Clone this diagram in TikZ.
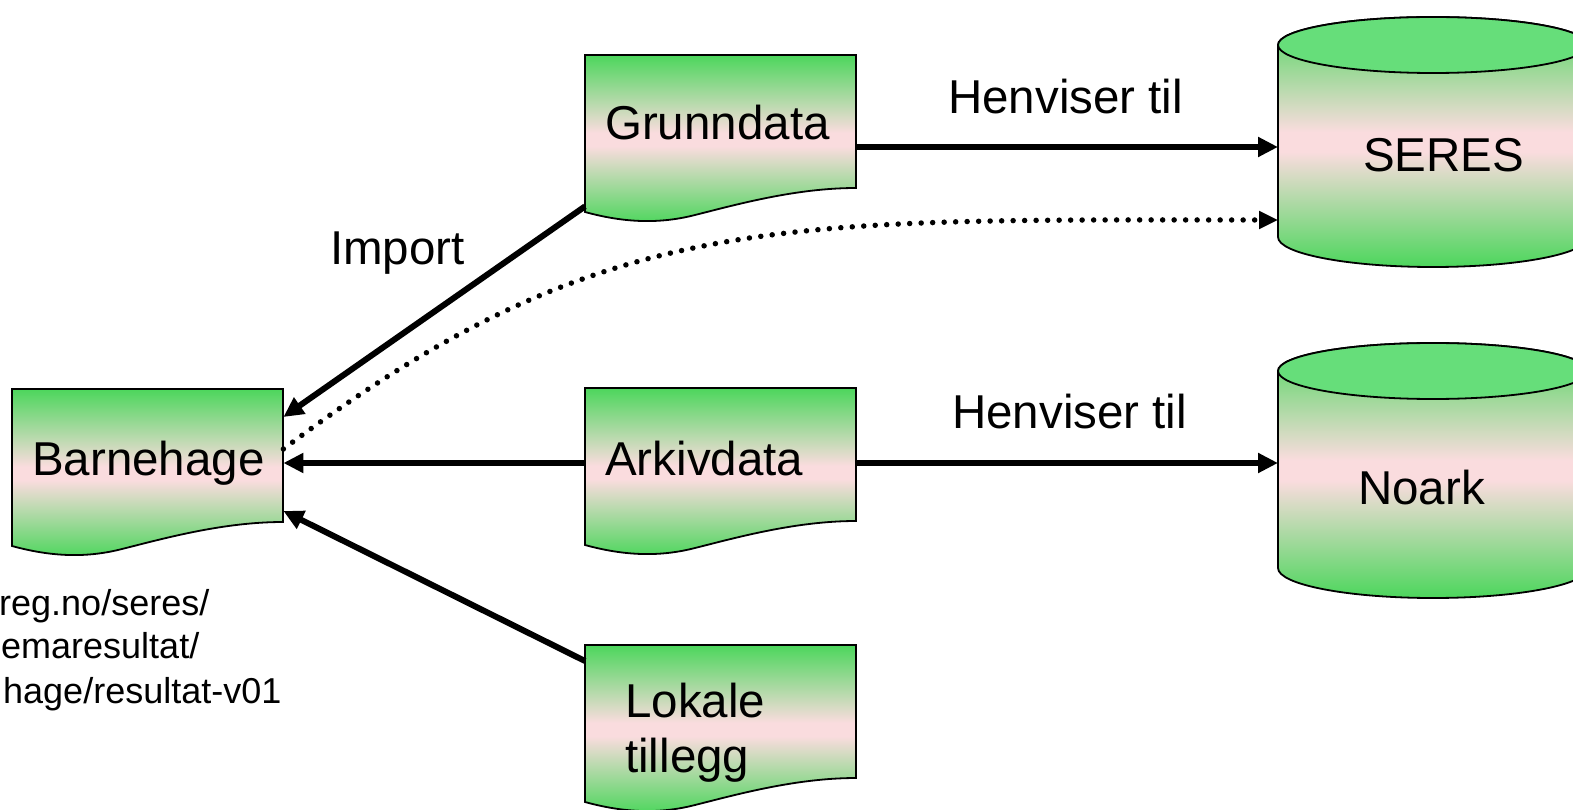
\documentclass[tikz,border=0pt]{standalone}
\usepackage{fontspec}
\setmainfont{Liberation Sans}
\usetikzlibrary{arrows.meta,shadings,calc}
\definecolor{dgreen}{RGB}{76,214,92}
\definecolor{dpink}{RGB}{250,220,222}
\definecolor{ctop}{RGB}{102,222,122}
\pgfdeclareverticalshading{docshade}{100bp}{color(0bp)=(dgreen); color(25bp)=(dgreen); color(48bp)=(dpink); color(52bp)=(dpink); color(75bp)=(dgreen); color(100bp)=(dgreen)}
\tikzset{
 shapefill/.style={draw=black, line width=1.8pt, shading=docshade},
 docnode/.style={inner sep=0pt, minimum width=271pt, minimum height=157pt, anchor=north west},
 cylnode/.style={inner sep=0pt, minimum width=310pt, minimum height=192pt, anchor=north west},
 big/.style={font=\fontsize{47.5}{57}\selectfont, inner sep=0pt, anchor=base west},
 small/.style={font=\fontsize{36}{43}\selectfont, inner sep=0pt, anchor=base west},
 arr/.style={line width=6pt, -{Triangle[length=20pt,width=19pt]}},
 dotarr/.style={line width=5.5pt, line cap=round, dash pattern=on 0pt off 11.5pt, -{Triangle[length=19pt,width=17pt]}},
}
\newcommand\mydoc[2]{\begin{scope}[shift={(#1,#2)}]
 \path[shapefill] (0,0) -- (271,0) -- (271,133) .. controls (210,133) and (150,150) .. (110,160) .. controls (75,169) and (40,168) .. (0,157) -- cycle;
\end{scope}}
\newcommand\mycyl[3]{%
 \path[shapefill] (#1-155,#2) arc[start angle=180,end angle=0,x radius=155pt,y radius=28pt] -- (#1+155,#3) arc[start angle=0,end angle=-180,x radius=155pt,y radius=30pt] -- cycle;
 \draw[line width=1.8pt, fill=ctop] (#1,#2) ellipse[x radius=155pt, y radius=28pt];}
\begin{document}
\begin{tikzpicture}[x=1pt,y=-1pt]
\useasboundingbox (0,0) rectangle (1573,810);
\clip (0,0) rectangle (1573,810);
\fill[white] (0,0) rectangle (1573,810);

% document shapes
\mydoc{585}{55}
\mydoc{12}{389}
\mydoc{585}{388}
\mydoc{585}{645}
\node[docnode] (grund) at (585,55) {};
\node[docnode] (barne) at (12,389) {};
\node[docnode] (arkiv) at (585,388) {};
\node[docnode] (lokal) at (585,645) {};

% cylinders
\mycyl{1433}{45}{237}
\mycyl{1433}{371}{568}
\node[cylnode] (seres) at (1278,45) {};
\node[cylnode] (noark) at (1278,371) {};

% texts
\node[big] (tgrund) at (605,140) {Grunndata};
\node[big] (tbarne) at (32,475) {Barnehage};
\node[big] (tarkiv) at (605,475) {Arkivdata};
\node[big] (tlok1) at (625,717) {Lokale};
\node[big] (tlok2) at (625,772) {tillegg};
\node[big] (tseres) at (1363,172) {SERES};
\node[big] (tnoark) at (1358,504) {Noark};
\node[big] (lhen1) at (948,114) {Henviser til};
\node[big] (lhen2) at (952,428) {Henviser til};
\node[big] (limp) at (330,265) {Import};
\node[small] (u1) at (-1,615) {reg.no/seres/};
\node[small] (u2) at (1,658) {emaresultat/};
\node[small] (u3) at (3,703) {hage/resultat-v01};

% connectors
\coordinate (g1) at ([yshift=-92pt]grund.north east);
\coordinate (a1) at ([yshift=-75pt]arkiv.north east);
\coordinate (a2) at ([yshift=-75pt]arkiv.north west);
\draw[arr] (g1) -- (g1 -| seres.west);
\draw[arr] (a1) -- (a1 -| noark.west);
\draw[arr] (a2) -- (a2 -| barne.east);
\draw[arr] ([yshift=6pt]grund.south west) -- ([yshift=-28pt]barne.north east);
\draw[arr] ([yshift=-16pt]lokal.north west) -- ([yshift=-122pt]barne.north east);
\draw[dotarr] ([yshift=-60pt]barne.north east) .. controls +(320,-240) and +(-500,0) .. ([yshift=-175pt]seres.north west);
\end{tikzpicture}
\end{document}
